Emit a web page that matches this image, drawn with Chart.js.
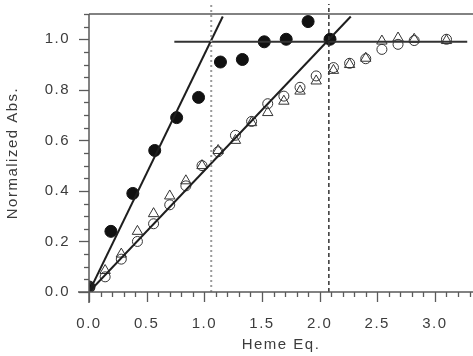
<!DOCTYPE html>
<html>
<head>
<meta charset="utf-8">
<script src="https://cdn.jsdelivr.net/npm/chart.js@4"></script>
<style>
  html, body { margin: 0; padding: 0; background: #fff; }
  #wrap { width: 473px; height: 356px; position: relative; }
</style>
</head>
<body>
<div id="wrap"><canvas id="heme"></canvas></div>
<script>
// Titration data (Heme Eq. vs normalized absorbance)
const filledX = [0.00, 0.19, 0.38, 0.57, 0.76, 0.95, 1.14, 1.33, 1.52, 1.71, 1.90, 2.09];
const filledY = [0.02, 0.24, 0.39, 0.56, 0.69, 0.77, 0.91, 0.92, 0.99, 1.00, 1.07, 1.00];

const openX = [0.00, 0.14, 0.28, 0.42, 0.56, 0.70, 0.84, 0.98, 1.12, 1.27, 1.41, 1.55, 1.69, 1.83, 1.97, 2.12, 2.26, 2.40, 2.54, 2.68, 2.82, 3.10];
const circleY = [0.02, 0.06, 0.13, 0.20, 0.27, 0.345, 0.42, 0.50, 0.555, 0.62, 0.675, 0.745, 0.775, 0.81, 0.855, 0.888, 0.905, 0.923, 0.96, 0.98, 0.995, 1.00];
const triangleY = [0.02, 0.085, 0.15, 0.24, 0.31, 0.38, 0.44, 0.50, 0.56, 0.60, 0.67, 0.71, 0.755, 0.795, 0.835, 0.877, 0.90, 0.925, 0.993, 1.005, 1.00, 0.995];

// fitted lines and guides
const steepX = [0, 1.16], steepY = [0, 1.09];
const shallowX = [0, 2.27], shallowY = [0, 1.09];
const plateauX = [0.74, 3.28], plateauY = [0.99, 0.99];
const markerX = [1.06, 2.08];
const markerY = [0, 1.14];

const xTicks = [0, 0.5, 1.0, 1.5, 2.0, 2.5, 3.0];
const yTicks = [0, 0.2, 0.4, 0.6, 0.8, 1.0];

const pts = (xs, ys) => xs.map((x, i) => ({ x: x, y: ys[i] }));

const TEXT = '#3c3c3c';
const AXIS = '#5a5a5a';

// axis lines, top border and minor/major tick marks
const axesPlugin = {
    id: 'axes',
    beforeLayout(chart) { chart.ctx.letterSpacing = '1.5px'; },
    beforeDraw(chart) { chart.ctx.letterSpacing = '1.5px'; },
    afterDraw(chart) {
        const ctx = chart.ctx;
        const a = chart.chartArea;
        const xs = chart.scales.x, ys = chart.scales.y;
        ctx.save();
        ctx.setLineDash([]);
        ctx.strokeStyle = AXIS;
        ctx.lineWidth = 1.5;
        ctx.beginPath();
        ctx.moveTo(a.left, a.top); ctx.lineTo(a.left, a.bottom + 11);
        ctx.moveTo(a.left - 11, a.bottom); ctx.lineTo(a.right, a.bottom);
        ctx.moveTo(a.left, a.top); ctx.lineTo(a.right, a.top);
        ctx.stroke();
        ctx.lineWidth = 1.3;
        for (let i = 0; i <= 33; i++) {
            const px = Math.round(xs.getPixelForValue(i / 10)) + 0.5;
            const len = i % 5 === 0 ? 10 : 5;
            ctx.beginPath();
            ctx.moveTo(px, a.bottom);
            ctx.lineTo(px, a.bottom + len);
            ctx.stroke();
        }
        for (let j = 0; j <= 22; j++) {
            const py = Math.round(ys.getPixelForValue(j / 20)) + 0.5;
            const len = j % 4 === 0 ? 10 : 5;
            ctx.beginPath();
            ctx.moveTo(a.left, py);
            ctx.lineTo(a.left - len, py);
            ctx.stroke();
        }
        ctx.restore();
    }
};

const lineSet = (xs, ys, extra) => Object.assign({
    type: 'line',
    data: pts(xs, ys),
    showLine: true,
    pointRadius: 0,
    borderColor: '#1e1e1e',
    borderWidth: 2,
    fill: false
}, extra);

new Chart(document.getElementById('heme').getContext('2d'), {
    type: 'scatter',
    data: {
        datasets: [
            lineSet([markerX[0], markerX[0]], markerY, { borderColor: '#9a9a9a', borderWidth: 2, borderDash: [2, 3], clip: false }),
            lineSet([markerX[1], markerX[1]], markerY, { borderColor: '#333', borderWidth: 1.5, borderDash: [4, 3], clip: false }),
            lineSet(steepX, steepY),
            lineSet(shallowX, shallowY),
            lineSet(plateauX, plateauY, { borderColor: '#333' }),
            {
                label: 'open circles',
                data: pts(openX, circleY),
                pointStyle: 'circle',
                pointRadius: 5,
                backgroundColor: 'rgba(0,0,0,0)',
                borderColor: '#333',
                borderWidth: 1
            },
            {
                label: 'triangles',
                data: pts(openX, triangleY),
                pointStyle: 'triangle',
                pointRadius: 6,
                backgroundColor: 'rgba(0,0,0,0)',
                borderColor: '#333',
                borderWidth: 1
            },
            {
                label: 'filled circles',
                data: pts(filledX, filledY),
                pointStyle: 'circle',
                pointRadius: 6,
                backgroundColor: '#111',
                borderColor: '#111',
                borderWidth: 1
            }
        ]
    },
    options: {
        responsive: true,
        maintainAspectRatio: false,
        animation: false,
        events: [],
        layout: { autoPadding: false, padding: { top: 14, right: 0, left: 0, bottom: 0 } },
        plugins: { legend: { display: false }, tooltip: { enabled: false } },
        scales: {
            x: {
                type: 'linear',
                min: 0,
                max: 3.33,
                afterBuildTicks: s => { s.ticks = xTicks.map(v => ({ value: v })); },
                afterFit: s => { s.height = 64; s.paddingLeft = 0; s.paddingRight = 0; },
                grid: { display: false, drawTicks: false },
                border: { display: false },
                ticks: {
                    padding: 23,
                    color: TEXT,
                    font: { family: 'Liberation Sans, Arial', size: 15 },
                    callback: v => v.toFixed(1),
                    maxRotation: 0
                },
                title: {
                    display: true,
                    text: 'Heme Eq.',
                    color: TEXT,
                    font: { family: 'Liberation Sans, Arial', size: 15 },
                    padding: { top: 0, bottom: 2 }
                }
            },
            y: {
                type: 'linear',
                min: 0,
                max: 1.1,
                afterBuildTicks: s => { s.ticks = yTicks.map(v => ({ value: v })); },
                afterFit: s => { s.width = 89; s.paddingTop = 0; s.paddingBottom = 0; },
                grid: { display: false, drawTicks: false },
                border: { display: false },
                ticks: {
                    padding: 19,
                    color: TEXT,
                    font: { family: 'Liberation Sans, Arial', size: 15 },
                    callback: v => v.toFixed(1)
                },
                title: {
                    display: true,
                    text: 'Normalized Abs.',
                    color: TEXT,
                    font: { family: 'Liberation Sans, Arial', size: 15 },
                    padding: { top: 4, bottom: 0 }
                }
            }
        }
    },
    plugins: [axesPlugin]
});
</script>
</body>
</html>
